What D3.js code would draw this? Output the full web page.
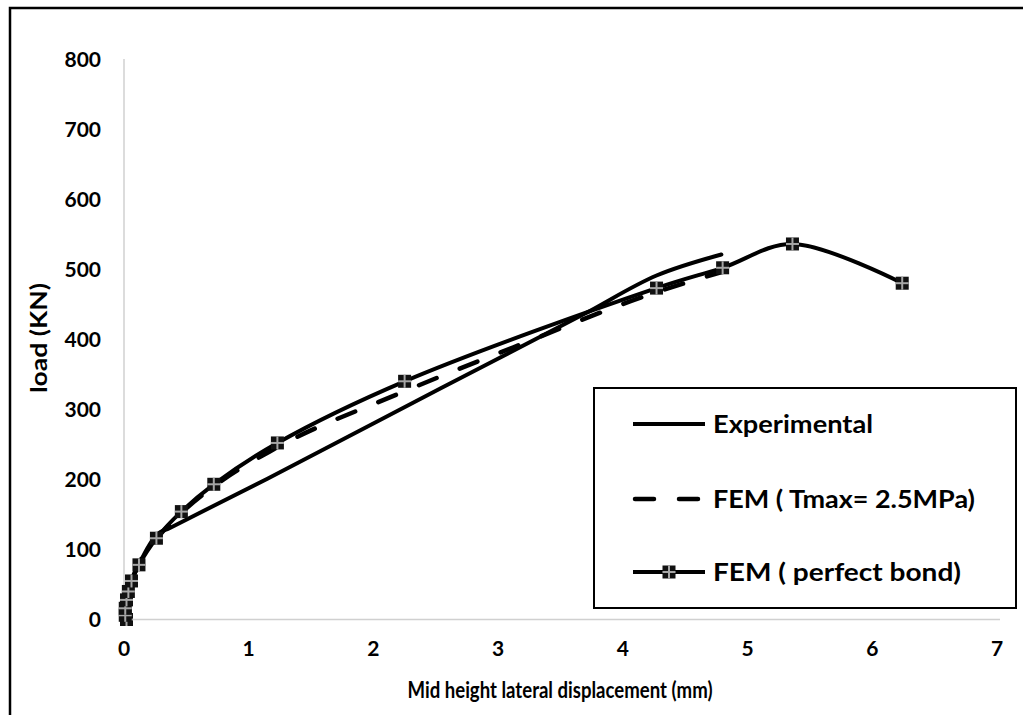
<!DOCTYPE html>
<html>
<head>
<meta charset="utf-8">
<script src="https://cdn.jsdelivr.net/npm/d3@7"></script>
<style>
  body { margin: 0; background: #fff; }
  text { font-family: Lato, "Open Sans", sans-serif; font-weight: bold; fill: #000; }
</style>
</head>
<body>
<svg id="chart"></svg>
<script>
// displacement (mm) / load (kN)
const experimental = [[0,0],[0.01,15],[0.03,35],[0.07,58],[0.13,82],[0.27,122],[0.36,130],[1.15,201],[2.54,330],[3.7,437],[4.27,491],[4.79,521]]
const femTmax = [[0,0],[0.01,15],[0.03,38],[0.06,55],[0.12,80],[0.27,117],[0.46,152],[0.72,190],[1.2,243],[2.2,322],[3.2,394],[4.2,463],[4.87,500]]
const femPerfect = [[0.02,0],[0.01,6],[0.01,16],[0.02,28],[0.035,40],[0.06,55],[0.12,78],[0.26,116],[0.46,154],[0.72,193],[1.23,252],[2.25,340],[4.27,473],[4.8,502],[5.36,536],[6.24,480]]

const xTicks = [0,1,2,3,4,5,6,7]
const yTicks = [0,100,200,300,400,500,600,700,800]
const legendLabels = ['Experimental', 'FEM ( Tmax= 2.5MPa)', 'FEM ( perfect bond)']

const width = 1023, height = 715

const svg = d3.select('#chart')
    .attr('width', width)
    .attr('height', height)

svg.append('rect').attr('width', width).attr('height', height).attr('fill', '#fff')

// outer frame (only top and left edges are in view)
svg.append('path')
    .attr('d', `M10,${height} V8 H${width}`)
    .attr('fill', 'none')
    .attr('stroke', '#000')
    .attr('stroke-width', 2.5)

const x = d3.scaleLinear().domain([0, 7]).range([124, 997])
const y = d3.scaleLinear().domain([0, 800]).range([619.5, 59])

// axis lines
svg.append('line')
    .attr('x1', x(0)).attr('x2', x(0))
    .attr('y1', y(800)).attr('y2', y(0))
    .attr('stroke', '#d0d0d0').attr('stroke-width', 1.5)
svg.append('line')
    .attr('x1', x(0)).attr('x2', x(7) + 3)
    .attr('y1', y(0)).attr('y2', y(0))
    .attr('stroke', '#d0d0d0').attr('stroke-width', 1.5)

// tick labels
svg.append('g').selectAll('text')
    .data(yTicks)
    .join('text')
    .attr('x', 101)
    .attr('y', d => y(d))
    .attr('dy', '0.36em')
    .attr('text-anchor', 'end')
    .attr('font-size', 21)
    .text(d => d)

svg.append('g').selectAll('text')
    .data(xTicks)
    .join('text')
    .attr('x', d => x(d))
    .attr('y', 648)
    .attr('dy', '0.36em')
    .attr('text-anchor', 'middle')
    .attr('font-size', 21)
    .text(d => d)

// axis titles
svg.append('text')
    .attr('transform', 'translate(39,338) rotate(-90)')
    .attr('dy', '0.36em')
    .attr('text-anchor', 'middle')
    .attr('font-size', 22)
    .attr('textLength', 110)
    .attr('lengthAdjust', 'spacingAndGlyphs')
    .text('load (KN)')

svg.append('text')
    .attr('x', 560)
    .attr('y', 690)
    .attr('dy', '0.36em')
    .attr('text-anchor', 'middle')
    .attr('font-size', 22)
    .attr('textLength', 305)
    .attr('lengthAdjust', 'spacingAndGlyphs')
    .text('Mid height lateral displacement (mm)')

const smooth = d3.line()
    .x(d => x(d[0]))
    .y(d => y(d[1]))
    .curve(d3.curveCatmullRom.alpha(0.5))

const monotone = d3.line()
    .x(d => x(d[0]))
    .y(d => y(d[1]))
    .curve(d3.curveMonotoneX)

const plot = svg.append('g')

plot.append('path')
    .attr('d', monotone(experimental))
    .attr('fill', 'none')
    .attr('stroke', '#000')
    .attr('stroke-width', 4)
    .attr('stroke-linejoin', 'round')
    .attr('stroke-linecap', 'round')

plot.append('path')
    .attr('d', monotone(femTmax))
    .attr('fill', 'none')
    .attr('stroke', '#000')
    .attr('stroke-width', 4.5)
    .attr('stroke-dasharray', '19,25')
    .attr('stroke-linecap', 'round')

plot.append('path')
    .attr('d', smooth(femPerfect))
    .attr('fill', 'none')
    .attr('stroke', '#000')
    .attr('stroke-width', 4)
    .attr('stroke-linejoin', 'round')
    .attr('stroke-linecap', 'round')

// square marker with a light cross through it
function drawMarker(g, cx, cy) {
    const s = 13
    g.append('rect')
        .attr('x', cx - s / 2).attr('y', cy - s / 2)
        .attr('width', s).attr('height', s)
        .attr('fill', '#111')
    g.append('line')
        .attr('x1', cx - s / 2).attr('x2', cx + s / 2)
        .attr('y1', cy).attr('y2', cy)
        .attr('stroke', '#a6a6a6').attr('stroke-width', 2)
    g.append('line')
        .attr('x1', cx).attr('x2', cx)
        .attr('y1', cy - s / 2).attr('y2', cy + s / 2)
        .attr('stroke', '#a6a6a6').attr('stroke-width', 2)
}

const markers = plot.append('g')
femPerfect.forEach(d => drawMarker(markers, x(d[0]), y(d[1])))

// legend
const legend = svg.append('g')
legend.append('rect')
    .attr('x', 594).attr('y', 388)
    .attr('width', 422).attr('height', 220)
    .attr('fill', '#fff')
    .attr('stroke', '#000')
    .attr('stroke-width', 2)

const rows = [424, 499, 572]
const legendWidths = [160, 262, 248]

legend.append('line')
    .attr('x1', 633).attr('x2', 705).attr('y1', rows[0]).attr('y2', rows[0])
    .attr('stroke', '#000').attr('stroke-width', 4)
legend.append('line')
    .attr('x1', 635).attr('x2', 703).attr('y1', rows[1]).attr('y2', rows[1])
    .attr('stroke', '#000').attr('stroke-width', 4.5)
    .attr('stroke-dasharray', '19,25').attr('stroke-linecap', 'round')
legend.append('line')
    .attr('x1', 633).attr('x2', 705).attr('y1', rows[2]).attr('y2', rows[2])
    .attr('stroke', '#000').attr('stroke-width', 4)
drawMarker(legend, 669, rows[2])

legend.selectAll('text.lab')
    .data(legendLabels)
    .join('text')
    .attr('class', 'lab')
    .attr('x', 713)
    .attr('y', (d, i) => rows[i])
    .attr('dy', '0.36em')
    .attr('font-size', 25)
    .attr('textLength', (d, i) => legendWidths[i])
    .attr('lengthAdjust', 'spacingAndGlyphs')
    .text(d => d)
</script>
</body>
</html>
